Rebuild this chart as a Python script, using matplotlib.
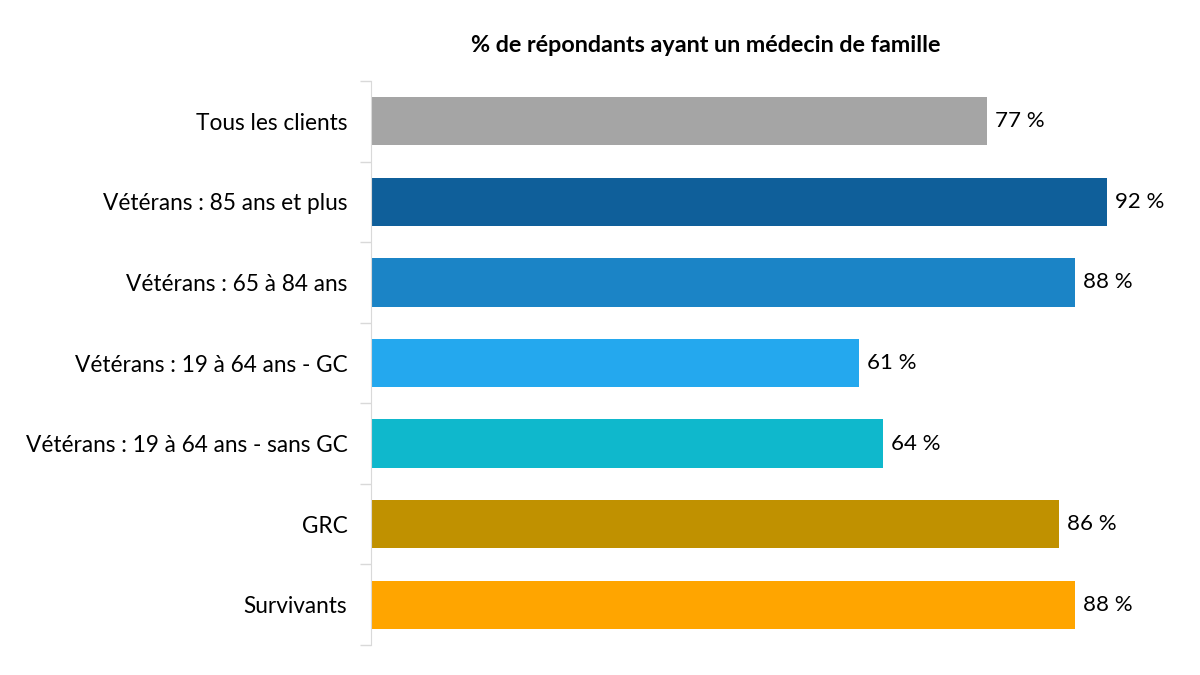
import matplotlib
matplotlib.use("Agg")
import matplotlib.pyplot as plt

# Data
categories = ["Tous les clients", "Vétérans : 85 ans et plus", "Vétérans : 65 à 84 ans",
              "Vétérans : 19 à 64 ans - GC", "Vétérans : 19 à 64 ans - sans GC", "GRC", "Survivants"]
values = [77, 92, 88, 61, 64, 86, 88]
colors = ["#A5A5A5", "#0F5F9A", "#1B84C6", "#24A8EE", "#0FB8CC", "#C09100", "#FFA500"]

plt.rcParams['font.family'] = ['Lato', 'DejaVu Sans']

fig = plt.figure(figsize=(12, 6.75), dpi=100, facecolor='w')
ax = fig.add_axes([371/1200, 1 - 645/675, 800/1200, (645 - 81)/675])

pos = list(range(len(categories)))
ax.barh(pos, values, height=0.6, color=colors)
for p, v in zip(pos, values):
    ax.text(v + 1, p, f"{v} %", va='center', ha='left', fontsize=16, color='#000000')

ax.set_xlim(0, 100)
ax.set_ylim(len(categories) - 0.5, -0.5)
ax.set_yticks(pos)
ax.set_yticklabels(categories, fontsize=16.3)
ax.set_yticks([p - 0.5 for p in pos] + [len(pos) - 0.5], minor=True)
ax.tick_params(axis='y', which='major', length=0, pad=17)
ax.tick_params(axis='y', which='minor', length=8, color='#D9D9D9', width=1)
ax.set_xticks([])
for s in ['top', 'right', 'bottom']:
    ax.spines[s].set_visible(False)
ax.spines['left'].set_color('#D9D9D9')

fig.text(706/1200, 1 - 45/675, "% de répondants ayant un médecin de famille",
         ha='center', va='center', fontsize=16.8, fontweight='bold')

fig.savefig("out.png", dpi=100)
